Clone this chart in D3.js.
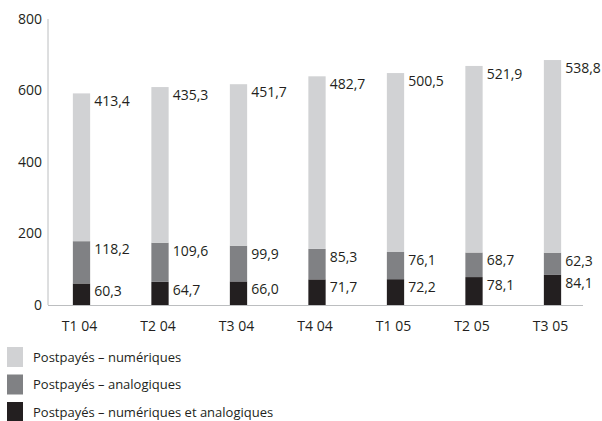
<!DOCTYPE html>
<html>
<head>
<meta charset="utf-8">
<script src="https://cdn.jsdelivr.net/npm/d3@7"></script>
<style>
body { margin: 0; background: #fff; }
text { font-family: "Open Sans", sans-serif; fill: #231f20; }
</style>
</head>
<body>
<script>
// data
var periods = ['T1 04', 'T2 04', 'T3 04', 'T4 04', 'T1 05', 'T2 05', 'T3 05'];
var bothVals = [60.3, 64.7, 66.0, 71.7, 72.2, 78.1, 84.1];      // numériques et analogiques
var analogVals = [118.2, 109.6, 99.9, 85.3, 76.1, 68.7, 62.3];   // analogiques
var digitalVals = [413.4, 435.3, 451.7, 482.7, 500.5, 521.9, 538.8]; // numériques
var seriesNames = ['Postpayés – numériques', 'Postpayés – analogiques', 'Postpayés – numériques et analogiques'];
var yTicks = [0, 200, 400, 600, 800];

var width = 602, height = 421;
var colors = { both: '#231f20', analog: '#808184', digital: '#d1d2d4' };
var fmt = v => v.toFixed(1).replace('.', ',');

var svg = d3.select('body').append('svg').attr('width', width).attr('height', height);

var x = d3.scaleBand().domain(periods).range([42.25, 591.75]).paddingInner(0.78).paddingOuter(0.39);
var y = d3.scaleLinear().domain([0, 800]).range([305, 19]);

var rows = periods.map((p, i) => ({ period: p, both: bothVals[i], analog: analogVals[i], digital: digitalVals[i] }));
var stack = d3.stack().keys(['both', 'analog', 'digital'])(rows);

// axes lines
svg.append('line').attr('x1', 48).attr('x2', 48).attr('y1', y(800)).attr('y2', y(0))
    .attr('stroke', '#bcbec0').attr('stroke-width', 1);
svg.append('line').attr('x1', 48).attr('x2', 583).attr('y1', y(0) + 0.5).attr('y2', y(0) + 0.5)
    .attr('stroke', '#bcbec0').attr('stroke-width', 1);

// y tick labels
svg.selectAll('.ytick').data(yTicks).enter().append('text')
    .attr('x', 42).attr('y', d => y(d)).attr('dy', '0.35em')
    .attr('text-anchor', 'end').attr('font-size', 14)
    .text(d => d);

// x labels
svg.selectAll('.xlab').data(periods).enter().append('text')
    .attr('x', d => x(d) + x.bandwidth() / 2 - 2).attr('y', 326).attr('dy', '0.35em')
    .attr('text-anchor', 'middle').attr('font-size', 14)
    .text(d => d);

// stacked bars
var layers = svg.selectAll('.layer').data(stack).enter().append('g')
    .attr('fill', d => colors[d.key]);

layers.selectAll('rect').data(d => d).enter().append('rect')
    .attr('x', d => x(d.data.period))
    .attr('width', x.bandwidth())
    .attr('y', d => y(d[1]))
    .attr('height', d => y(d[0]) - y(d[1]));

// value labels next to the top of each segment
layers.selectAll('.val').data(d => d.map(s => ({ s: s, key: d.key }))).enter().append('text')
    .attr('x', d => x(d.s.data.period) + x.bandwidth() + 4)
    .attr('y', d => y(d.s[1]) + 8).attr('dy', '0.35em')
    .attr('font-size', 14)
    .style('fill', '#231f20')
    .text(d => fmt(d.s.data[d.key]));

// legend
var legendColors = [colors.digital, colors.analog, colors.both];
var legend = svg.selectAll('.leg').data(seriesNames).enter().append('g')
    .attr('transform', (d, i) => 'translate(7,' + (347 + i * 27.5) + ')');
legend.append('rect').attr('width', 16).attr('height', 20).attr('fill', (d, i) => legendColors[i]);
legend.append('text').attr('x', 26).attr('y', 10).attr('dy', '0.35em')
    .attr('font-size', 13).text(d => d);
</script>
</body>
</html>
